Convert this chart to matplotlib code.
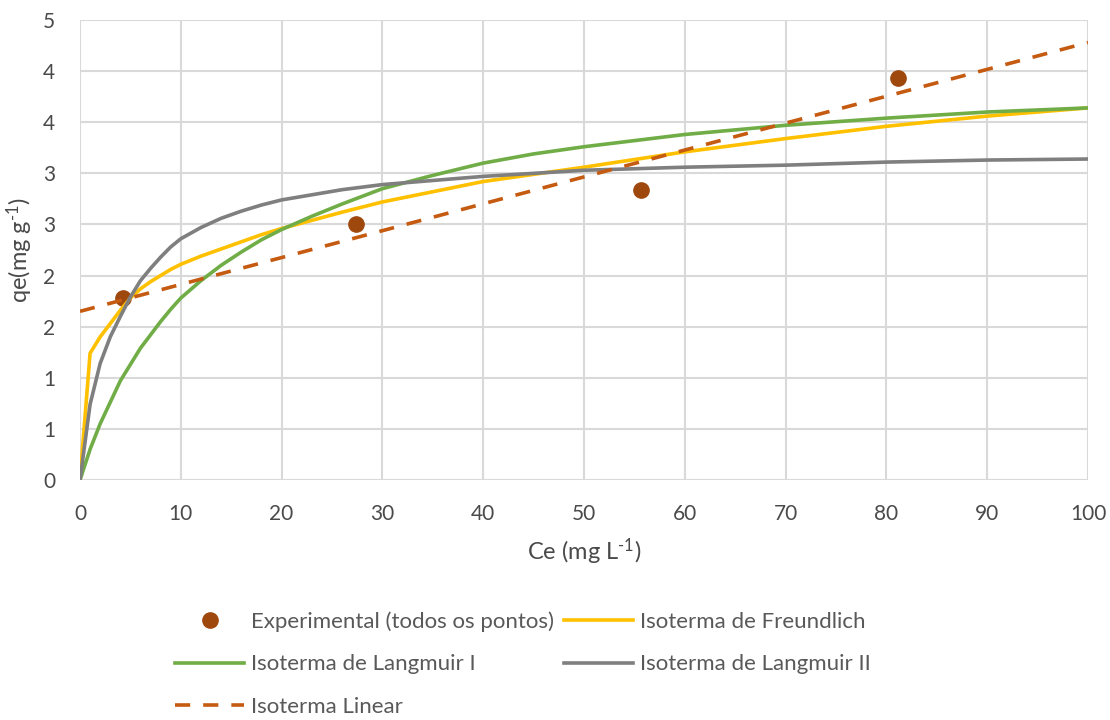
import matplotlib
matplotlib.use("Agg")
import matplotlib.pyplot as plt

# pontos experimentais
ce_exp = [4.3, 27.4, 55.7, 81.2]
qe_exp = [1.78, 2.50, 2.84, 3.93]

# curvas dos modelos
ce_mod = [0, 1, 2, 3, 4, 5, 6, 7, 8, 9, 10, 12, 14, 16, 18, 20, 23, 26, 30,
          35, 40, 45, 50, 60, 70, 80, 90, 100]
qe_freundlich = [0, 1.24, 1.40, 1.53, 1.66, 1.78, 1.87, 1.94, 2.00, 2.06, 2.11,
                 2.19, 2.26, 2.33, 2.40, 2.46, 2.54, 2.62, 2.72, 2.82, 2.92,
                 2.99, 3.06, 3.21, 3.34, 3.46, 3.56, 3.64]
qe_langmuir1 = [0, 0.30, 0.55, 0.76, 0.97, 1.13, 1.29, 1.42, 1.55, 1.67, 1.78,
                1.95, 2.10, 2.23, 2.35, 2.45, 2.58, 2.70, 2.85, 2.98, 3.10,
                3.19, 3.26, 3.38, 3.47, 3.54, 3.60, 3.64]
qe_langmuir2 = [0, 0.74, 1.14, 1.40, 1.60, 1.79, 1.95, 2.07, 2.18, 2.28, 2.36,
                2.47, 2.56, 2.63, 2.69, 2.74, 2.79, 2.84, 2.89, 2.93, 2.97,
                3.00, 3.03, 3.06, 3.08, 3.11, 3.13, 3.14]
ce_lin = [0, 100]
qe_lin = [1.65, 4.28]

x_ticks = [0, 10, 20, 30, 40, 50, 60, 70, 80, 90, 100]
y_ticks = [0, 0.5, 1, 1.5, 2, 2.5, 3, 3.5, 4, 4.5]
y_labels = ["0", "1", "1", "2", "2", "3", "3", "4", "4", "5"]

plt.rcParams['font.family'] = ['Lato', 'DejaVu Sans']
plt.rcParams['mathtext.fontset'] = 'custom'
plt.rcParams['mathtext.rm'] = 'Lato'
plt.rcParams['mathtext.it'] = 'Lato:italic'

txt = '#4a4a4a'
grid = '#d9d9d9'

fig = plt.figure(figsize=(11.1, 7.2), dpi=100)
ax = fig.add_axes([80 / 1110, 1 - 480 / 720, 1008 / 1110, 460 / 720])

ax.plot(ce_exp, qe_exp, 'o', color='#9E480E', markersize=11, zorder=3,
        label='Experimental (todos os pontos)')
ax.plot(ce_mod, qe_freundlich, color='#FFC000', lw=2.6, zorder=4,
        label='Isoterma de Freundlich')
ax.plot(ce_mod, qe_langmuir1, color='#70AD47', lw=2.6, zorder=5,
        label='Isoterma de Langmuir I')
ax.plot(ce_mod, qe_langmuir2, color='#7F7F7F', lw=2.6, zorder=6,
        label='Isoterma de Langmuir II')
ax.plot(ce_lin, qe_lin, color='#C55A11', lw=2.6, ls=(0, (4.2, 3.6)), zorder=7,
        label='Isoterma Linear')

ax.set_xlim(0, 100)
ax.set_ylim(0, 4.5)
ax.set_xticks(x_ticks)
ax.set_yticks(y_ticks)
ax.set_yticklabels(y_labels)
ax.tick_params(length=0, labelsize=15, colors=txt)
ax.tick_params(axis='x', pad=17)
ax.tick_params(axis='y', pad=18)
ax.grid(True, color=grid, lw=1.5, zorder=0)
ax.set_axisbelow(True)
for s in ax.spines.values():
    s.set_visible(False)

ax.set_xlabel('Ce (mg L$^{\\text{-1}}$)', fontsize=17, color=txt, labelpad=9)
ax.set_ylabel('qe(mg g$^{\\text{-1}}$)', fontsize=17, color=txt, labelpad=6)

h, l = ax.get_legend_handles_labels()
order = [0, 2, 4, 1, 3]
fig.legend([h[i] for i in order], [l[i] for i in order], ncol=2,
           loc='upper left', bbox_to_anchor=(164 / 1110, 1 - 600 / 720),
           frameon=False, fontsize=16, labelcolor='#595959',
           handlelength=3.1, handletextpad=0.32, columnspacing=0.45,
           labelspacing=1.02, borderpad=0)

fig.savefig('out.png', dpi=100)
